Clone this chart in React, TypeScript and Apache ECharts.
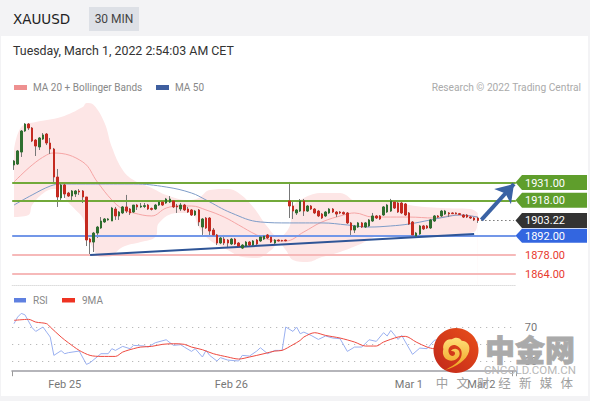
import React, { useEffect, useRef } from "react";
import * as echarts from "echarts";

// [open, close, low, high]
const candles: number[][] = [
[1943.8,1946.7,1940.2,1947.5],[1944.5,1954.1,1943.8,1954.8],[1953.3,1968.7,1949.7,1969.4],[1968.7,1973.8,1968,1974.5],[1973.8,1970.9,1969.4,1974.5],
[1970.9,1961.4,1960.6,1971.6],[1962.1,1957.7,1950.4,1962.8],[1957,1963.6,1954.8,1964.3],[1962.8,1965.8,1962.1,1967.2],[1966.5,1959.9,1958.4,1967.2],
[1959.9,1955.5,1951.9,1963.6],[1955.5,1935,1931.4,1956.3],[1935,1920.4,1913.1,1940.9],[1919.7,1929.2,1918.2,1930.6],[1929.2,1922.6,1919.7,1930],
[1923.3,1921.1,1920.4,1924.1],[1921.1,1924.8,1916.7,1925.5],[1922.6,1924.8,1920.4,1925.5],[1924.8,1924.1,1921.9,1926.2],[1924.8,1920.4,1916,1925.5],
[1920.4,1888.9,1884.5,1920.4],[1889.6,1887.4,1877.9,1890.4],[1887.4,1894,1880.1,1894.8],[1894,1898.4,1890.4,1899.2],[1897.7,1902.8,1897,1905.7],
[1902.1,1904.3,1901.4,1905],[1903.6,1904.3,1903,1905],[1902.8,1912.3,1902.8,1913.1],[1911.6,1906.5,1903.6,1913.1],[1906.5,1909.4,1903.6,1910.1],
[1908.7,1913.1,1907.9,1913.8],[1913.1,1910.1,1908.7,1921.9],[1911.6,1908.7,1907.2,1912.3],[1909.4,1914.5,1908.7,1914.5],[1914.5,1913.1,1910.9,1915.3],
[1913.1,1913.8,1912.3,1916],[1913.4,1914.1,1912.3,1916],[1914.5,1911.6,1910.9,1915.3],[1912,1911.3,1910.5,1912.7],[1911.6,1914.5,1910.9,1915.3],
[1914.5,1916.7,1913.8,1917.5],[1916.7,1914.5,1913.8,1917.5],[1916,1918.9,1915.3,1919.7],[1916.7,1918.9,1916,1921.1],[1917.5,1913.1,1912.3,1918.2],
[1913.8,1913.1,1908.7,1915.3],[1911.6,1914.5,1910.1,1916],[1914.5,1910.9,1910.1,1915.3],[1911.6,1909.4,1908.7,1913.1],[1910.9,1907.2,1906.5,1911.6],
[1907.2,1910.1,1906.5,1910.9],[1910.9,1902.1,1899.2,1911.6],[1898.4,1904.3,1892.6,1905],[1905,1897.7,1897,1905.7],[1905,1895.5,1892.6,1905.7],
[1896.2,1892.6,1891.1,1897.7],[1892.6,1886.7,1885.2,1893.3],[1886.7,1890.4,1885.9,1891.1],[1889.6,1886.7,1885.2,1892.6],[1888.9,1886.7,1883,1889.6],
[1886,1889.6,1885.2,1890.4],[1889.6,1886,1885.2,1890.4],[1886.7,1884.5,1883.8,1887.4],[1883,1885.2,1882.3,1885.9],[1884.5,1887.4,1883.8,1888.2],
[1887.4,1885.2,1884.5,1888.2],[1885.2,1888.2,1884.5,1888.9],[1888.9,1886,1885.2,1889.6],[1888.2,1891.1,1887.4,1891.8],[1889.6,1891.8,1888.9,1892.6],
[1892.6,1890.4,1889.6,1893.3],[1891.1,1887.4,1886.7,1891.8],[1886.7,1888.9,1886,1889.6],[1888.9,1888.2,1887.8,1889.3],[1888.6,1888.2,1887.8,1889],
[1888.9,1888.3,1888,1889.2],[1917.5,1913.8,1905,1931.4],[1913.8,1910.1,1904.3,1916.7],[1908.7,1910.9,1907.2,1911.6],[1910.1,1917.5,1909.4,1918.9],
[1917.5,1910.1,1906.5,1918.9],[1910.1,1913.8,1909.4,1914.5],[1913.8,1911.6,1910.9,1914.5],[1911.6,1908.7,1907.9,1912.3],[1910.1,1906.5,1905.7,1910.9],
[1907.9,1905,1904.3,1908.7],[1906.5,1909.4,1905.7,1910.1],[1908.7,1911.6,1907.9,1912.3],[1911.6,1909.4,1908.7,1912.3],[1909.4,1907.9,1905.7,1910.1],
[1909.4,1908.7,1907.9,1910.1],[1909.1,1908,1907.5,1909.8],[1908.7,1901.4,1900.6,1909.4],[1901.4,1896.2,1892.6,1902.1],[1896.2,1899.2,1894,1899.9],
[1898.4,1901.4,1897.7,1902.1],[1901.4,1898.4,1897.7,1902.1],[1898.4,1901.4,1897.7,1902.1],[1899.2,1903.6,1898.4,1904.3],[1902.8,1906.5,1902.1,1908.7],
[1906.5,1905,1904.3,1907.2],[1906.5,1904.3,1903.6,1907.2],[1907.2,1913.1,1906.5,1913.8],[1909.4,1914.5,1908.7,1915.3],[1910.1,1917.5,1909.4,1919],
[1916.7,1912.3,1911.6,1917.5],[1916,1909.4,1908.7,1916.7],[1916,1908.7,1907.9,1916.7],[1915.3,1907.2,1906.5,1916],[1908.7,1900.6,1899.9,1909.4],
[1902.1,1892.6,1890.4,1902.8],[1891.8,1894,1891.1,1894.8],[1893.3,1899.2,1892.6,1899.9],[1899.2,1897,1896.2,1899.9],[1899.2,1897.7,1897,1899.9],
[1897.7,1903.6,1897,1904.3],[1902.8,1906.5,1902.1,1907.2],[1906.5,1905.7,1905,1907.2],[1906.5,1910.1,1905.7,1910.9],[1907.9,1910.1,1907.2,1910.9],
[1908.7,1908,1905.7,1909.4],[1908.7,1908.2,1907.9,1909.1],[1908.7,1908.1,1907.7,1909.1],[1908.2,1907.6,1907.2,1908.7],[1907.2,1905.7,1905,1907.9],
[1907.2,1905.7,1905,1907.9],[1905.7,1905,1904.3,1906.5],[1905,1903.6,1902.8,1905.7],[1905,1903.2,1901.4,1905.7],
];

const bandUpper = [[0,1954.8],[2,1971.6],[6,1975.3],[13,1979],[19,1986.3],[20,1989.2],[22,1987.7],[25,1974.6],[27,1957],[30,1940.2],[33,1932.8],[38,1927],[42,1921.9],[48,1918.2],[51,1919.7],[54,1925.5],[59,1926.2],[62,1923.3],[66,1913.1],[70,1898.4],[73,1891.1],[76,1898.4],[77,1913.1],[80,1919.7],[85,1923.3],[90,1923.3],[95,1916.7],[98,1916.7],[104,1918.2],[109,1914.5],[118,1912.3],[126,1911.6],[128,1908.7]];
const bandLower = [[0,1905.7],[4,1907.2],[5,1914.5],[8,1923],[11,1926.2],[13,1925.5],[14,1919.7],[17,1910.9],[19,1905],[20,1894.8],[21,1886.7],[24,1876.4],[26,1876.4],[30,1883.8],[35,1887.4],[39,1891.1],[40,1901.4],[45,1908.7],[49,1908.7],[51,1898.4],[54,1888.9],[59,1881.6],[63,1876.4],[67,1875.7],[71,1881.6],[73,1886.7],[75,1881.6],[77,1874.3],[81,1872.8],[85,1876.4],[90,1880.1],[95,1885.2],[102,1892.6],[109,1891.1],[118,1892.6],[127,1894.8],[128,1903.6]];
const ma20 = [[0,1931.4],[5,1943.8],[9,1951.1],[11,1952.6],[19,1946],[23,1931.4],[27,1918.2],[30,1911.6],[33,1908.7],[38,1906.5],[42,1912.3],[46,1913.8],[49,1913.8],[53,1910.9],[58,1905.7],[62,1899.9],[67,1892.6],[71,1888.9],[75,1888.2],[80,1894.8],[85,1902.1],[91,1907.2],[94,1908.7],[99,1905.7],[102,1905.7],[109,1905.7],[116,1905],[122,1907.2],[128,1905.7]];
const ma50 = [[0,1914.5],[5,1921.9],[10,1928.4],[13,1929.9],[24,1929.9],[33,1929.9],[42,1927.7],[49,1923.3],[53,1918.2],[60,1908.7],[68,1902.1],[76,1901.4],[85,1901.4],[92,1899.9],[98,1898.4],[104,1899.2],[109,1900.6],[115,1903.6],[119,1905.7],[123,1907.2],[128,1905.7]];
const rsi = [[0,73.9],[1,81.7],[2,86],[3,84.4],[5,69.2],[6,64.8],[8,70],[9,64],[10,58.2],[11,36.6],[13,42.1],[14,38.6],[15,39.8],[18,41.7],[20,26],[21,28],[24,38.6],[26,38.6],[27,44.5],[28,42.5],[30,47.2],[32,44.5],[33,48.4],[36,47.6],[37,46.4],[39,51.5],[42,55],[44,48.4],[46,49.2],[47,46.4],[49,41.3],[50,44.5],[52,34.7],[53,42.5],[54,36.6],[56,30],[57,33.9],[59,31.1],[62,30],[63,36.6],[65,35.8],[67,41.7],[68,45.6],[70,38.6],[72,42.5],[74,42.5],[75,70],[77,64.8],[78,70],[79,62.1],[80,64],[82,60.1],[84,55.4],[86,59.4],[88,57],[90,56.2],[92,41.3],[94,46.4],[96,46.4],[98,55],[100,53.1],[102,63.3],[103,59.4],[104,66],[106,55.4],[107,60.1],[110,37.8],[112,45.2],[114,44.5],[116,54.3],[120,58],[124,55],[128,52]];
const rsiMa = [[0,77.8],[4,79],[6,75.8],[9,73.9],[10,70],[13,58.2],[15,51.5],[18,42.5],[21,36.6],[24,35.4],[28,35.4],[30,40.5],[33,44.5],[35,46.4],[38,47.2],[41,49.6],[44,50.3],[47,49.6],[49,46.4],[52,43.3],[55,38.6],[59,34.7],[62,32.3],[65,34.7],[69,38.6],[72,41.7],[74,42.5],[77,49.2],[79,54.3],[80,58.2],[83,63.3],[86,60.1],[90,57],[94,52.3],[97,47.6],[100,47.6],[102,52.3],[106,58.2],[108,59],[111,52.3],[114,46.4],[116,44.5],[120,46],[124,48],[128,50]];

const resistance = [1931, 1918];
const supportBlue = [1892];
const supportPink = [1878, 1864];
const lastPrice = 1903.22;
const trendLine = [[21, 1877.9], [127, 1893.3]];
const arrowLine = [[129, 1903.6], [137.7, 1929.9]];
const tagValues = [1931, 1918, 1903.22, 1892, 1878, 1864];
const tagFills = ["#5f9e2c", "#5f9e2c", "#333333", "#3366e0", "none", "none"];
const tagTexts = ["#ffffff", "#ffffff", "#ffffff", "#ffffff", "#e8392e", "#e8392e"];
const tickLabels: [number, string][] = [[14, "Feb 25"], [60, "Feb 26"], [109, "Mar 1"], [129, "Mar 2"]];
const rsiTicks = [30, 50, 70];
const rsiTickLabels = [30, 70];
const sloganChars = ["中", "文", "财", "经", "新", "媒", "体"];
const categoryCount = 139;
const categories = Array.from({ length: categoryCount }, (_, i) => String(i));

const SANS = "Roboto, sans-serif";
const CJK = '"Noto Sans CJK SC", sans-serif';
const swirl = "M60 150 C95 140 125 120 132 95 C138 75 125 62 110 62 C105 52 90 50 80 58 C65 55 52 70 55 88 C50 105 60 122 78 122 C95 122 108 108 103 95 C98 84 84 84 78 93 C84 92 92 95 90 102 C88 110 76 110 72 100 C66 85 78 72 92 76 C106 80 115 95 108 112 C100 130 80 140 60 150 Z";
echarts.graphic.registerShape("logoSwirl", echarts.graphic.extendPath(swirl as any, {}) as any);

const levelLine = (value: number, color: string) => ({ yAxis: value, lineStyle: { color, width: 2, type: "solid" } });

function buildOption() {
  const labelMap: Record<number, string> = Object.fromEntries(tickLabels);
  return {
    animation: false,
    backgroundColor: "#f3f3f5",
    grid: [
      { left: 12.2, width: 503.6, top: 88.25, height: 196.7 },
      { left: 12.2, width: 503.6, top: 310, height: 61.2 },
    ],
    xAxis: [
      { type: "category", gridIndex: 0, data: categories, boundaryGap: true,
        axisLine: { show: true, lineStyle: { color: "#dddddd", type: "dotted", width: 1 } },
        axisTick: { show: false }, axisLabel: { show: false }, splitLine: { show: false } },
      { type: "category", gridIndex: 1, data: categories, boundaryGap: true,
        axisLine: { show: true, lineStyle: { color: "#b5b5ba", width: 2 } },
        axisTick: { show: true, length: 5, interval: (i: number) => i === 0 || i === categoryCount - 1, lineStyle: { color: "#999999" } },
        axisLabel: { show: true, interval: (i: number) => i in labelMap, formatter: (_: string, i: number) => labelMap[i] ?? "", color: "#777777", fontFamily: SANS, fontSize: 11, margin: 8 },
        splitLine: { show: false } },
    ],
    yAxis: [
      { type: "value", gridIndex: 0, min: 1856, max: 2000, show: false, splitLine: { show: false } },
      { type: "value", gridIndex: 1, min: 18, max: 90, position: "right",
        axisLine: { show: false },
        axisTick: { show: false, customValues: rsiTicks },
        axisLabel: { show: true, customValues: rsiTickLabels, color: "#777777", fontFamily: SANS, fontSize: 11, margin: 9 },
        splitLine: { show: true, lineStyle: { color: "#aaaaaa", type: [1, 5], width: 1 } } },
    ],
    series: [
      { type: "line", data: bandUpper, smooth: 0.4, showSymbol: false, silent: true, z: 1, lineStyle: { width: 0 }, areaStyle: { color: "#fde6e6", opacity: 1, origin: "start" } },
      { type: "line", data: bandLower, smooth: 0.4, showSymbol: false, silent: true, z: 1, lineStyle: { width: 0 }, areaStyle: { color: "#ffffff", opacity: 1, origin: "start" } },
      { type: "line", data: ma20, smooth: 0.4, showSymbol: false, z: 2, lineStyle: { width: 1, color: "#f5a5a5" } },
      { type: "line", data: ma50, smooth: 0.4, showSymbol: false, z: 2, lineStyle: { width: 1, color: "#7e9cc8" } },
      { type: "line", data: [], z: 3, markLine: { silent: true, symbol: "none", label: { show: false }, animation: false,
          data: [
            ...resistance.map((v) => levelLine(v, "#72a93a")),
            ...supportBlue.map((v) => levelLine(v, "#7397e8")),
            ...supportPink.map((v) => levelLine(v, "#f6b9b9")),
            [{ coord: [129, lastPrice], lineStyle: { color: "#333333", width: 1, type: [1, 3] } }, { coord: [categoryCount - 1, lastPrice] }],
          ] } },
      { type: "candlestick", data: candles, barWidth: 1, z: 4, itemStyle: { color: "#777777", color0: "#777777", borderColor: "#777777", borderColor0: "#777777", borderWidth: 1 } },
      { type: "candlestick", data: candles.map(([o, c]) => [o, c, Math.min(o, c), Math.max(o, c)]), barWidth: 2, z: 5,
        itemStyle: { color: "#2f6e2f", color0: "#c52a20", borderColor: "#2f6e2f", borderColor0: "#c52a20", borderWidth: 1 } },
      { type: "line", data: [], z: 6, markLine: { silent: true, symbol: "none", label: { show: false }, animation: false,
          data: [
            [{ coord: trendLine[0], lineStyle: { color: "#2f5597", width: 2, type: "solid" } }, { coord: trendLine[1] }],
            [{ coord: arrowLine[0], symbol: "none", lineStyle: { color: "#3a62a4", width: 4, type: "solid" } }, { coord: arrowLine[1], symbol: "arrow", symbolSize: 17 }],
          ] } },
      { type: "custom", z: 7, silent: true, data: tagValues.map((v, i) => [categoryCount - 1, v, i]),
        encode: { x: 0, y: 1 },
        renderItem: (_: any, api: any) => {
          const v = api.value(1);
          const i = api.value(2);
          const y = api.coord([categoryCount - 1, v])[1];
          const h = i === 3 ? 7 : 7.5;
          const children: any[] = [];
          if (tagFills[i] !== "none") {
            children.push({ type: "polygon", shape: { points: [[515.5, y], [522, y - h], [587, y - h], [587, y + h], [522, y + h]] }, style: { fill: tagFills[i] } });
          }
          children.push({ type: "text", style: { text: v.toFixed(2), x: 525, y: y + 0.5, fill: tagTexts[i], font: `11px ${SANS}`, verticalAlign: "middle", align: "left" } });
          return { type: "group", children };
        } },
      { type: "line", xAxisIndex: 1, yAxisIndex: 1, data: rsi, showSymbol: false, z: 3, lineStyle: { width: 1, color: "#9ab0f0" } },
      { type: "line", xAxisIndex: 1, yAxisIndex: 1, data: rsiMa, smooth: 0.3, showSymbol: false, z: 4, lineStyle: { width: 1, color: "#ee4a40" } },
    ],
    graphic: [
      { type: "rect", z: -1, shape: { x: 1, y: 36, width: 587, height: 360 }, style: { fill: "#ffffff" } },
      { type: "rect", z: 0, shape: { x: 89, y: 7, width: 50, height: 24 }, style: { fill: "#dde0e6" } },
      { type: "text", z: 1, x: 13, y: 19, style: { text: "XAUUSD", fill: "#222222", font: '500 13.5px "DejaVu Sans"', verticalAlign: "middle" } },
      { type: "text", z: 1, x: 114, y: 19, style: { text: "30 MIN", fill: "#444444", font: `12px ${SANS}`, align: "center", verticalAlign: "middle" } },
      { type: "text", z: 1, x: 13, y: 50, style: { text: "Tuesday, March 1, 2022 2:54:03 AM CET", fill: "#333333", font: `12.4px ${SANS}`, verticalAlign: "middle" } },
      { type: "rect", z: 1, shape: { x: 14, y: 85, width: 13, height: 5 }, style: { fill: "#ee9090" } },
      { type: "text", z: 1, x: 33, y: 87.5, style: { text: "MA 20 + Bollinger Bands", fill: "#888888", font: `10px ${SANS}`, verticalAlign: "middle" } },
      { type: "rect", z: 1, shape: { x: 156, y: 85, width: 13, height: 5 }, style: { fill: "#3f5f9f" } },
      { type: "text", z: 1, x: 175, y: 87.5, style: { text: "MA 50", fill: "#888888", font: `10px ${SANS}`, verticalAlign: "middle" } },
      { type: "text", z: 1, x: 581, y: 87.5, style: { text: "Research © 2022 Trading Central", fill: "#aaaaaa", font: `10.2px ${SANS}`, align: "right", verticalAlign: "middle" } },
      { type: "rect", z: 1, shape: { x: 14, y: 298, width: 12, height: 4.5 }, style: { fill: "#5f80e0" } },
      { type: "text", z: 1, x: 33, y: 300.5, style: { text: "RSI", fill: "#888888", font: `10px ${SANS}`, verticalAlign: "middle" } },
      { type: "rect", z: 1, shape: { x: 62, y: 298, width: 13, height: 4.5 }, style: { fill: "#ee3322" } },
      { type: "text", z: 1, x: 82, y: 300.5, style: { text: "9MA", fill: "#888888", font: `10px ${SANS}`, verticalAlign: "middle" } },
      { type: "circle", z: 100, shape: { cx: 456, cy: 350.5, r: 22.5 }, style: { fill: { type: "linear", x: 1, y: 0, x2: 0, y2: 1, colorStops: [{ offset: 0, color: "#e9501a" }, { offset: 1, color: "#c0261a" }] } } },
      { type: "logoSwirl", z: 101, x: 425, y: 320, scaleX: 1 / 3, scaleY: 1 / 3, style: { fill: { type: "linear", x: 0, y: 0, x2: 0, y2: 1, colorStops: [{ offset: 0, color: "#ffe07a" }, { offset: 1, color: "#ef9f1c" }] } } },
      { type: "text", z: 100, x: 530, y: 348, style: { text: "中金网", fill: "#aaaaaa", stroke: "#aaaaaa", lineWidth: 0.8, font: `900 30px ${CJK}`, align: "center", verticalAlign: "middle" } },
      { type: "text", z: 100, x: 530, y: 369.5, style: { text: "CNGOLD.COM.CN", fill: "#b8b8b8", font: `11.5px ${SANS}`, align: "center", verticalAlign: "middle" } },
      ...sloganChars.map((ch, i) => ({ type: "text", z: 100, x: 442 + i * 20.8, y: 382.5, style: { text: ch, fill: "#a0a0a0", font: `12.5px ${CJK}`, align: "center", verticalAlign: "middle" } })),
    ],
  };
}

export default function App() {
  const ref = useRef<HTMLDivElement>(null);
  useEffect(() => {
    document.body.style.margin = "0";
    const chart = echarts.init(ref.current!, undefined, { renderer: "svg" });
    chart.setOption(buildOption() as any);
    return () => chart.dispose();
  }, []);
  return <div ref={ref} style={{ width: 590, height: 401 }} />;
}
